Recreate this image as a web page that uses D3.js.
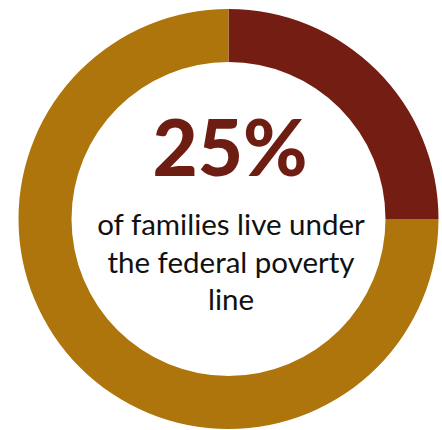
<!DOCTYPE html>
<html>
<head>
<meta charset="utf-8">
<script src="https://cdn.jsdelivr.net/npm/d3@7"></script>
<style>
  html, body { margin: 0; padding: 0; background: #fff; }
  svg { display: block; }
</style>
</head>
<body>
<div id="chart"></div>
<script>
const width = 442;
const height = 430;

// share of families
const categories = ["Below federal poverty line", "Above federal poverty line"];
const values = [25, 75];
const colors = ["#741d13", "#ad750b"];

const headline = "25%";
const captionLines = ["of families live under", "the federal poverty", "line"];

const cx = 228.5, cy = 219;
const outerR = 210, innerR = 157;

const svg = d3.select("#chart")
    .append("svg")
    .attr("width", width)
    .attr("height", height);

const g = svg.append("g")
    .attr("transform", `translate(${cx},${cy})`);

const pie = d3.pie().sort(null).value(d => d);
const arc = d3.arc().innerRadius(innerR).outerRadius(outerR);

g.selectAll("path")
    .data(pie(values))
    .enter()
    .append("path")
    .attr("d", arc)
    .attr("fill", (d, i) => colors[i]);

g.append("text")
    .attr("x", 1.5)
    .attr("y", 176 - cy)
    .attr("text-anchor", "middle")
    .attr("font-family", "Lato, sans-serif")
    .attr("font-weight", 900)
    .attr("font-size", 78)
    .attr("fill", "#6e1d12")
    .text(headline);

g.selectAll("text.caption")
    .data(captionLines)
    .enter()
    .append("text")
    .attr("class", "caption")
    .attr("x", 2.5)
    .attr("y", (d, i) => 235 - cy + i * 37.5)
    .attr("text-anchor", "middle")
    .attr("font-family", "Lato, sans-serif")
    .attr("font-size", 29.5)
    .attr("fill", "#111")
    .text(d => d);
</script>
</body>
</html>
